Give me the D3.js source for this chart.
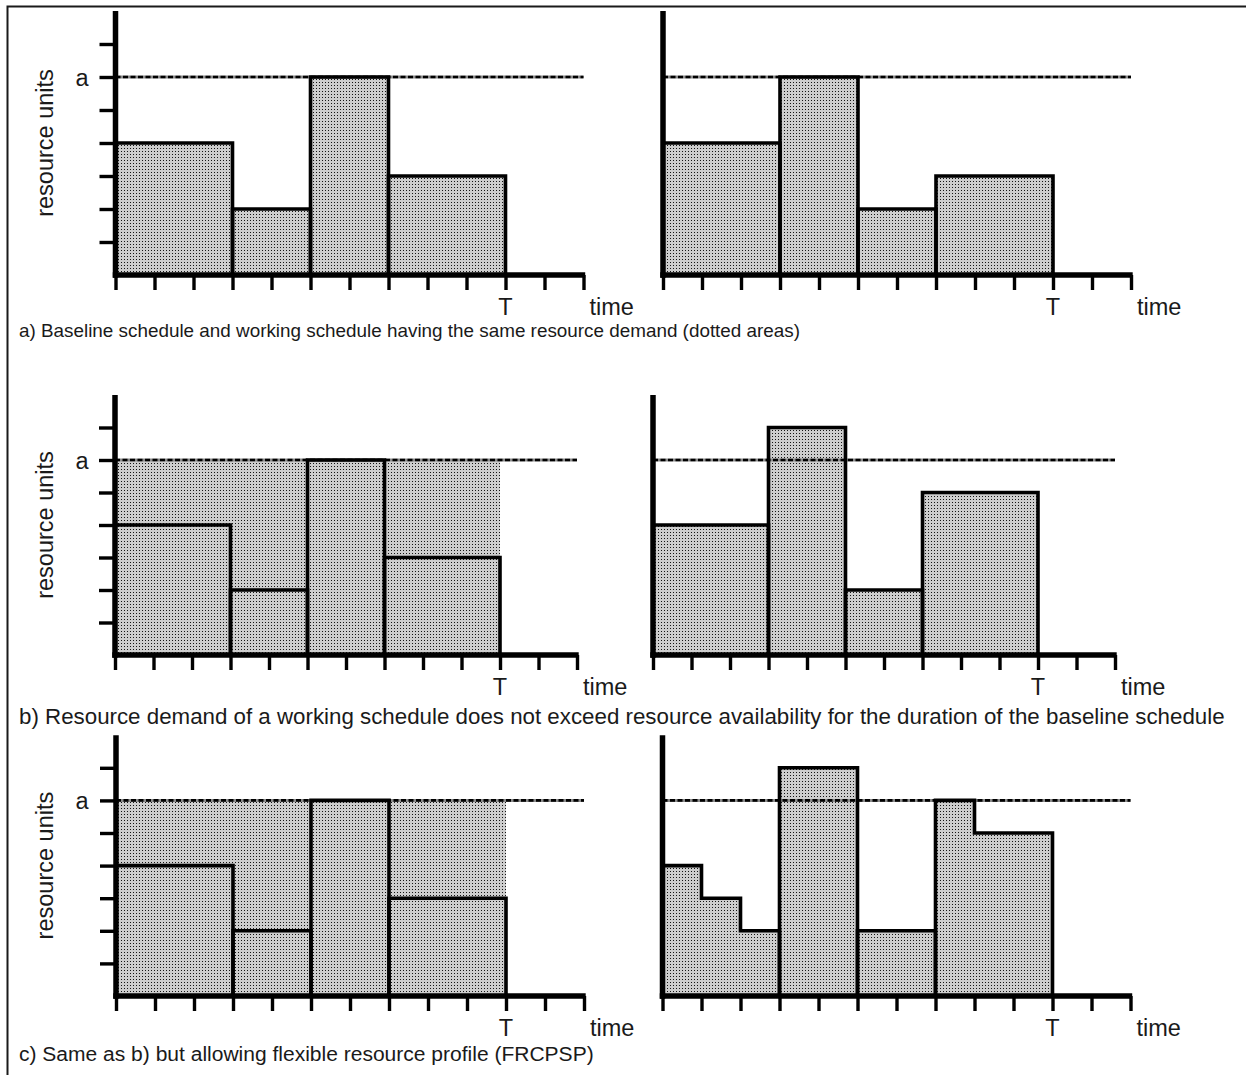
<!DOCTYPE html>
<html>
<head>
<meta charset="utf-8">
<script src="https://cdn.jsdelivr.net/npm/d3@7/dist/d3.min.js"></script>
<style>
  html, body { margin: 0; padding: 0; background: #fff; }
  svg { display: block; }
  text { font-family: "Liberation Sans", Arial, sans-serif; fill: #1a1a1a; }
</style>
</head>
<body>
<svg id="chart" width="1246" height="1075"></svg>
<script>
// ---- data -------------------------------------------------------------
const timeTicks = d3.range(0, 13);        // time grid 0..12
const unitTicks = [1, 2, 3, 4, 5, 6, 7];  // resource unit ticks
const capacity = 6;                        // resource availability "a"
const horizon = 10;                        // baseline makespan "T"
const unitMax = 8;

// activities: each one is a list of [start, end, units] segments
const baselineActs = [
  [[0, 3, 4]],
  [[3, 5, 2]],
  [[5, 7, 6]],
  [[7, 10, 3]]
];
const workingActsA = [
  [[0, 3, 4]],
  [[3, 5, 6]],
  [[5, 7, 2]],
  [[7, 10, 3]]
];
const workingActsB = [
  [[0, 3, 4]],
  [[3, 5, 7]],
  [[5, 7, 2]],
  [[7, 10, 5]]
];
const workingActsC = [
  [[0, 1, 4], [1, 2, 3], [2, 3, 2]],
  [[3, 5, 7]],
  [[5, 7, 2]],
  [[7, 8, 6], [8, 10, 5]]
];

const captions = [
  "a) Baseline schedule and working schedule having the same resource demand (dotted areas)",
  "b) Resource demand of a working schedule does not exceed resource availability for the duration of the baseline schedule",
  "c) Same as b) but allowing flexible resource profile (FRCPSP)"
];

// ---- layout -----------------------------------------------------------
const rows = [
  { base: 275, unit: 33.0, step: 39.0, leftX: 115.5, rightX: 663,   captionY: 337, captionW: 782,
    left: baselineActs, right: workingActsA, showAvail: false },
  { base: 655, unit: 32.5, step: 38.5, leftX: 115,   rightX: 653,   captionY: 724, captionW: 1206,
    left: baselineActs, right: workingActsB, showAvail: true },
  { base: 996, unit: 32.6, step: 39.0, leftX: 116,   rightX: 662.5, captionY: 1061, captionW: 575,
    left: baselineActs, right: workingActsC, showAvail: true }
];

const svg = d3.select("#chart");

// dotted fill
const defs = svg.append("defs");
const pat = defs.append("pattern")
  .attr("id", "dots").attr("patternUnits", "userSpaceOnUse")
  .attr("width", 3).attr("height", 3);
pat.append("rect").attr("width", 3).attr("height", 3).attr("fill", "#cdcdcd");
pat.append("rect").attr("x", 1).attr("y", 1).attr("width", 1).attr("height", 1).attr("fill", "#141414");

// frame (top and left edges)
svg.append("path")
  .attr("d", "M7.5,1075 V6.5 H1246")
  .attr("fill", "none").attr("stroke", "#1a1a1a").attr("stroke-width", 2);

function activityPoints(segs, x, y) {
  const pts = [[x(segs[0][0]), y(0)]];
  segs.forEach(([s, e, u]) => { pts.push([x(s), y(u)]); pts.push([x(e), y(u)]); });
  pts.push([x(segs[segs.length - 1][1]), y(0)]);
  return pts;
}

const line = d3.line();

function drawPanel(row, x0, acts, isLeft) {
  const g = svg.append("g");
  const x = d3.scaleLinear().domain([0, 12]).range([x0, x0 + 12 * row.step]);
  const y = d3.scaleLinear().domain([0, unitMax]).range([row.base, row.base - unitMax * row.unit]);

  // availability area over the baseline horizon
  if (isLeft && row.showAvail) {
    g.append("rect")
      .attr("x", x(0)).attr("y", y(capacity))
      .attr("width", x(horizon) - x(0)).attr("height", y(0) - y(capacity))
      .attr("fill", "url(#dots)");
  }

  // activity fills
  g.selectAll("path.fill").data(acts).join("path")
    .attr("class", "fill")
    .attr("d", d => line(activityPoints(d, x, y)) + "Z")
    .attr("fill", "url(#dots)");

  // resource availability line (hatched)
  g.append("line")
    .attr("x1", x(0)).attr("x2", x(12))
    .attr("y1", y(capacity)).attr("y2", y(capacity))
    .attr("stroke", "#8a8a8a").attr("stroke-width", 3);
  g.append("line")
    .attr("x1", x(0)).attr("x2", x(12))
    .attr("y1", y(capacity)).attr("y2", y(capacity))
    .attr("stroke", "#000").attr("stroke-width", 2.6)
    .attr("stroke-dasharray", "5,2.5");

  // activity outlines
  g.selectAll("path.outline").data(acts).join("path")
    .attr("class", "outline")
    .attr("d", d => line(activityPoints(d, x, y)))
    .attr("fill", "none").attr("stroke", "#000").attr("stroke-width", 3.6)
    .attr("stroke-linejoin", "miter").attr("stroke-linecap", "square");

  // axes
  const xAxis = d3.axisBottom(x).tickValues(timeTicks).tickSize(15).tickSizeOuter(0).tickFormat("");
  const yAxis = d3.axisLeft(y).tickValues(isLeft ? unitTicks : []).tickSize(16).tickSizeOuter(0).tickFormat("");

  const ya = g.append("g").attr("transform", `translate(${x(0)},0)`).call(yAxis);
  const xa = g.append("g").attr("transform", `translate(0,${y(0)})`).call(xAxis);
  [xa, ya].forEach(a => {
    a.select(".domain").attr("stroke", "#000").attr("stroke-width", 5.5);
    a.selectAll(".tick line").attr("stroke", "#000").attr("stroke-width", 3.4);
  });
  ya.select(".domain").attr("d", `M0,${y(unitMax)}V${y(0) + 2.75}`);
  xa.select(".domain").attr("d", `M${x(0) - 2.75},0H${x(12) + 1.7}`);

  // labels
  g.append("text").attr("x", x(horizon)).attr("y", y(0) + 40)
    .attr("text-anchor", "middle").attr("font-size", 23.5).text("T");
  g.append("text").attr("x", x(12) + 6).attr("y", y(0) + 40)
    .attr("font-size", 23.5).text("time");

  if (isLeft) {
    g.append("text").attr("x", 82).attr("y", y(capacity) + 9)
      .attr("text-anchor", "middle").attr("font-size", 23.5).text("a");
    g.append("text")
      .attr("transform", `translate(53,${y(4)}) rotate(-90)`)
      .attr("text-anchor", "middle").attr("font-size", 23.5).text("resource units");
  }
}

rows.forEach((row, i) => {
  drawPanel(row, row.leftX, row.left, true);
  drawPanel(row, row.rightX, row.right, false);
  // caption, sized so it spans its line width
  const t = svg.append("text").attr("x", 19).attr("y", row.captionY)
    .attr("font-size", 20).text(captions[i]);
  const w = t.node().getComputedTextLength();
  t.attr("font-size", (20 * row.captionW / w).toFixed(2));
});
</script>
</body>
</html>
